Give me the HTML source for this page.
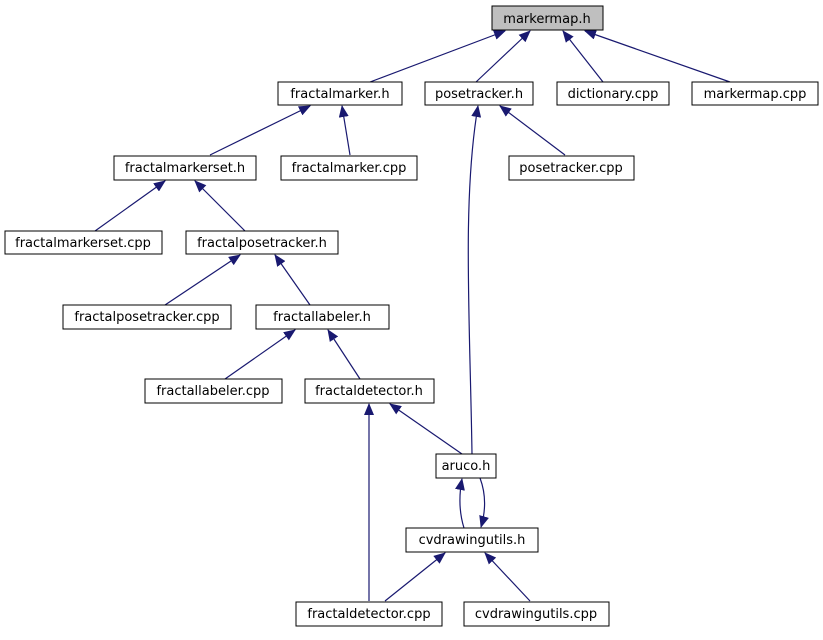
<!DOCTYPE html>
<html><head><meta charset="utf-8"><style>
html,body{margin:0;padding:0;background:#fff;}
svg text{font-family:"DejaVu Sans","Liberation Sans",sans-serif;font-size:13px;fill:#000;text-anchor:middle;}
</style></head><body>
<svg width="823" height="635" viewBox="0 0 823 635" xmlns="http://www.w3.org/2000/svg">
<defs>
<marker id="a" markerWidth="12" markerHeight="10" refX="11" refY="5" orient="auto" markerUnits="userSpaceOnUse">
<path d="M0,0 L12,5 L0,10 Z" fill="#191970"/>
</marker>
</defs>
<g stroke="#191970" stroke-width="1.2" fill="none" marker-end="url(#a)">
<line x1="370" y1="82" x2="505" y2="31"/>
<line x1="476" y1="82" x2="530" y2="31"/>
<line x1="603" y1="82" x2="563" y2="31"/>
<line x1="730" y1="82" x2="585" y2="31"/>
<line x1="210" y1="155" x2="310" y2="106"/>
<line x1="350" y1="155" x2="342" y2="106"/>
<line x1="565" y1="155" x2="500" y2="106"/>
<line x1="95" y1="231" x2="165" y2="181"/>
<line x1="245" y1="231" x2="195" y2="181"/>
<line x1="165" y1="305" x2="240" y2="255"/>
<line x1="310" y1="305" x2="275" y2="255"/>
<line x1="225" y1="379" x2="295" y2="330"/>
<line x1="360" y1="379" x2="328" y2="330"/>
<line x1="462" y1="454" x2="390" y2="404"/>
<path d="M472,454 C470,320 462,200 478,106"/>
<path d="M464,528 C459,512 459,495 462,479"/>
<path d="M480,478 C486,494 486,510 481,527"/>
<line x1="369" y1="601" x2="369" y2="404"/>
<line x1="385" y1="601" x2="445" y2="553"/>
<line x1="530" y1="601" x2="485" y2="553"/>
</g>
<g stroke="#000" stroke-width="1" fill="#fff">
<rect x="492" y="6" width="111" height="24" fill="#bfbfbf"/>
<rect x="278" y="82" width="124" height="23"/>
<rect x="425" y="82" width="108" height="23"/>
<rect x="557" y="82" width="112" height="23"/>
<rect x="692" y="82" width="126" height="23"/>
<rect x="114" y="156" width="142" height="24"/>
<rect x="281" y="156" width="136" height="24"/>
<rect x="509" y="156" width="125" height="24"/>
<rect x="5" y="231" width="157" height="23"/>
<rect x="186" y="231" width="152" height="23"/>
<rect x="63" y="305" width="168" height="24"/>
<rect x="256" y="305" width="133" height="24"/>
<rect x="145" y="379" width="137" height="24"/>
<rect x="305" y="379" width="129" height="24"/>
<rect x="436" y="454" width="60" height="24"/>
<rect x="406" y="528" width="132" height="24"/>
<rect x="296" y="602" width="146" height="24"/>
<rect x="464" y="602" width="145" height="24"/>
</g>
<text x="547" y="23">markermap.h</text>
<text x="340" y="98">fractalmarker.h</text>
<text x="479" y="98">posetracker.h</text>
<text x="613" y="98">dictionary.cpp</text>
<text x="755" y="98">markermap.cpp</text>
<text x="185" y="172">fractalmarkerset.h</text>
<text x="349" y="172">fractalmarker.cpp</text>
<text x="571" y="172">posetracker.cpp</text>
<text x="83" y="247">fractalmarkerset.cpp</text>
<text x="262" y="247">fractalposetracker.h</text>
<text x="147" y="321">fractalposetracker.cpp</text>
<text x="322" y="321">fractallabeler.h</text>
<text x="213" y="395">fractallabeler.cpp</text>
<text x="369" y="395">fractaldetector.h</text>
<text x="466" y="470">aruco.h</text>
<text x="472" y="544">cvdrawingutils.h</text>
<text x="369" y="618">fractaldetector.cpp</text>
<text x="536" y="618">cvdrawingutils.cpp</text>
</svg>
</body></html>
